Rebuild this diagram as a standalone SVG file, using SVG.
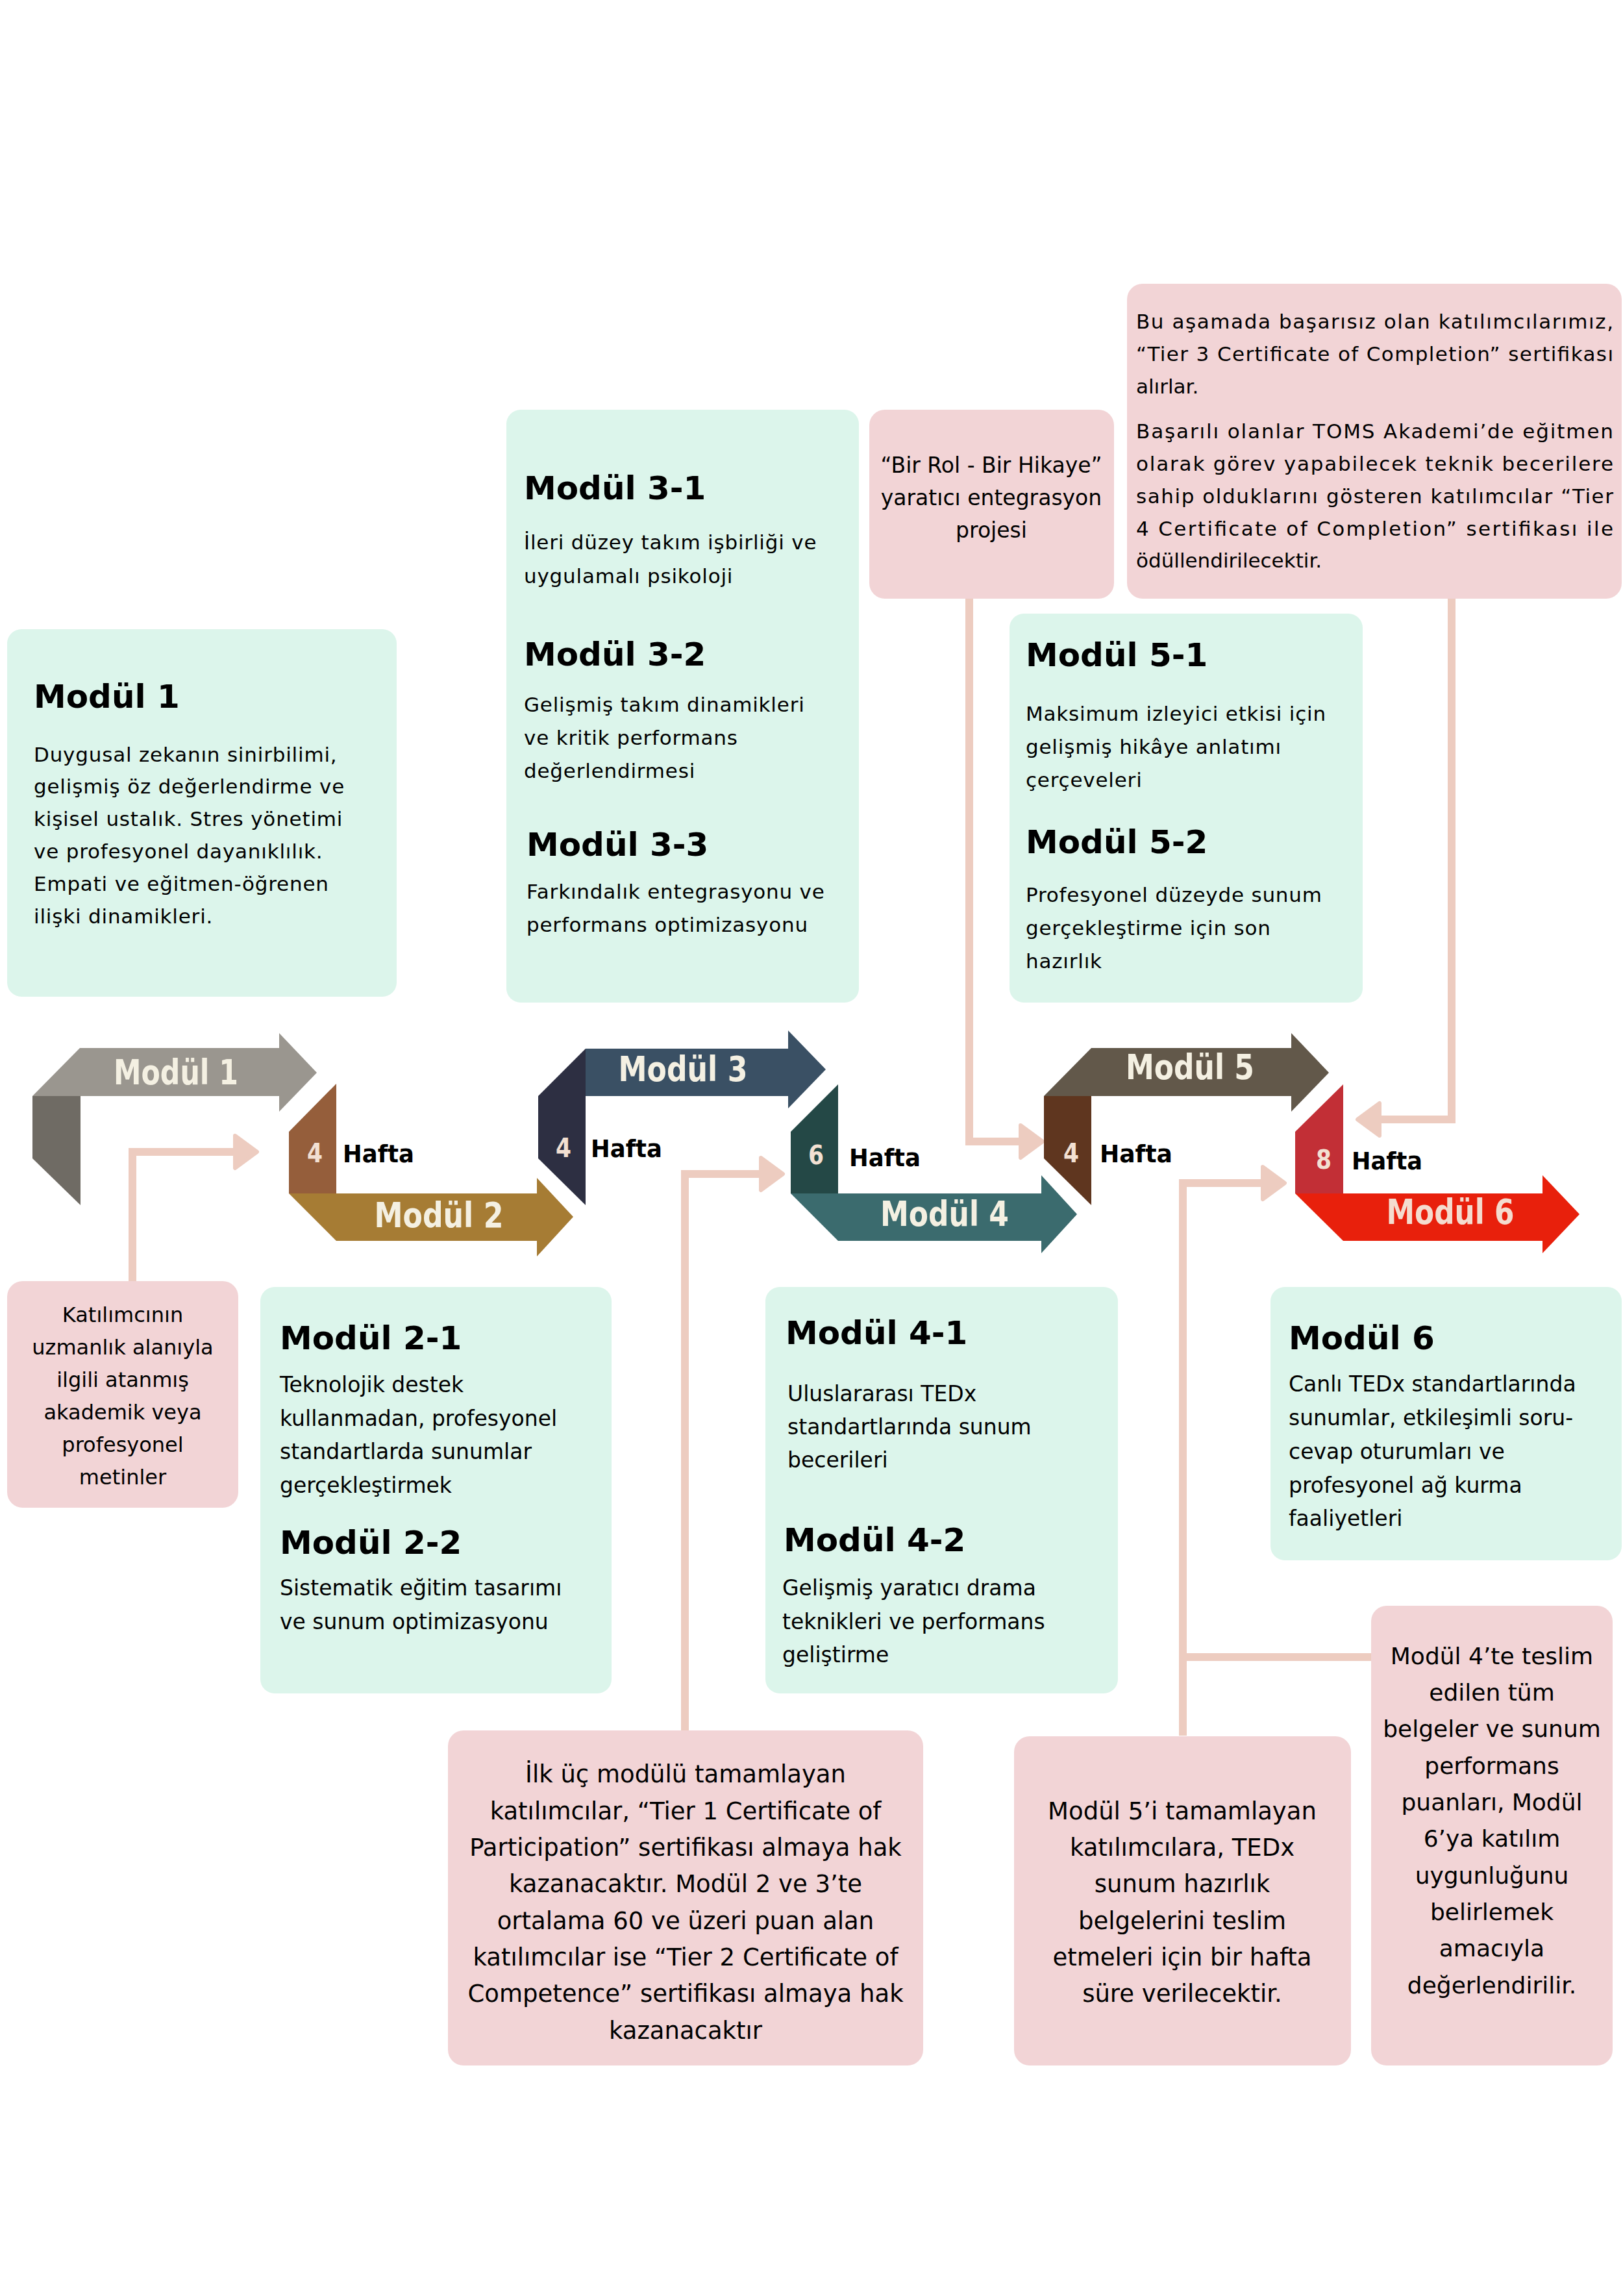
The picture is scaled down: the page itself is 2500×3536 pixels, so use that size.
<svg xmlns="http://www.w3.org/2000/svg" width="2500" height="3536" viewBox="0 0 2500 3536">
<style>
.mint{fill:#DCF5EB}
.pink{fill:#F2D4D6}
.h{font-family:"DejaVu Sans",sans-serif;font-weight:bold;font-size:50px;fill:#000}
.b1{font-family:"DejaVu Sans",sans-serif;font-size:31px;letter-spacing:0.8px;fill:#000}
.b2{font-family:"DejaVu Sans",sans-serif;font-size:33px;fill:#000}
.pc{font-family:"DejaVu Sans",sans-serif;fill:#000;text-anchor:middle}
.pj{font-family:"DejaVu Sans",sans-serif;font-size:31px;fill:#000}
.lbl{font-family:"DejaVu Sans",sans-serif;font-weight:bold;font-size:54px;fill:#F4F0E2;text-anchor:middle}
.num{font-family:"DejaVu Sans",sans-serif;font-weight:bold;font-size:40px;fill:#F2E0D2;text-anchor:middle}
.hf{font-family:"DejaVu Sans",sans-serif;font-weight:bold;font-size:38px;fill:#000}
.conn{fill:none;stroke:#EDCCC0;stroke-width:12}
</style>
<defs>
<marker id="ah" viewBox="-4 -30 44 60" markerWidth="44" markerHeight="60" refX="0" refY="0" markerUnits="userSpaceOnUse" orient="auto">
<path d="M0,-25 L34,0 L0,25 Z" fill="#EDCCC0" stroke="#EDCCC0" stroke-width="6" stroke-linejoin="round"/>
</marker>
</defs>
<rect width="2500" height="3536" fill="#FFFFFF"/>

<g id="connectors">
<path class="conn" d="M204,1973 V1774 H362" marker-end="url(#ah)"/>
<path class="conn" d="M1055,2665 V1808 H1172" marker-end="url(#ah)"/>
<path class="conn" d="M1493,922 V1758 H1572" marker-end="url(#ah)"/>
<path class="conn" d="M2236,922 V1724 H2125" marker-end="url(#ah)"/>
<path class="conn" d="M1822,2673 V1822 H1945" marker-end="url(#ah)"/>
<path class="conn" d="M2112,2552 H1822"/>
</g>

<g id="arrow-modul-1">
<polygon points="50,1688 124,1688 124,1856 50,1784" fill="#6F6B64"/>
<polygon points="50,1688 123,1614 430,1614 430,1591 488,1652 430,1712 430,1688" fill="#9A968F"/>
<text class="lbl" x="271" y="1670" textLength="192" lengthAdjust="spacingAndGlyphs">Modül 1</text>
</g>
<g id="arrow-modul-2">
<polygon points="445,1743 518,1669 518,1838 445,1838" fill="#955E3B"/>
<polygon points="445,1838 827,1838 827,1814 883,1874 827,1935 827,1911 518,1911" fill="#A67C34"/>
<text class="num" x="485" y="1790" textLength="24" lengthAdjust="spacingAndGlyphs">4</text>
<text class="hf" x="528" y="1790" textLength="110" lengthAdjust="spacingAndGlyphs">Hafta</text>
<text class="lbl" x="676" y="1890" textLength="199" lengthAdjust="spacingAndGlyphs">Modül 2</text>
</g>
<g id="arrow-modul-3">
<polygon points="829,1688 902,1615 902,1856 829,1784" fill="#2D2F42"/>
<polygon points="902,1615 1214,1615 1214,1587 1272,1647 1214,1707 1214,1688 902,1688" fill="#3A5064"/>
<text class="num" x="868" y="1782" textLength="24" lengthAdjust="spacingAndGlyphs">4</text>
<text class="hf" x="910" y="1782" textLength="110" lengthAdjust="spacingAndGlyphs">Hafta</text>
<text class="lbl" x="1052" y="1665" textLength="199" lengthAdjust="spacingAndGlyphs">Modül 3</text>
</g>
<g id="arrow-modul-4">
<polygon points="1218,1743 1291,1670 1291,1838 1218,1838" fill="#244846"/>
<polygon points="1218,1838 1604,1838 1604,1810 1659,1870 1604,1930 1604,1911 1291,1911" fill="#3B6B6E"/>
<text class="num" x="1257" y="1793" textLength="24" lengthAdjust="spacingAndGlyphs">6</text>
<text class="hf" x="1308" y="1796" textLength="110" lengthAdjust="spacingAndGlyphs">Hafta</text>
<text class="lbl" x="1455" y="1888" textLength="198" lengthAdjust="spacingAndGlyphs">Modül 4</text>
</g>
<g id="arrow-modul-5">
<polygon points="1608,1688 1681,1688 1681,1856 1608,1784" fill="#5F361F"/>
<polygon points="1608,1688 1681,1614 1989,1614 1989,1591 2047,1652 1989,1712 1989,1688" fill="#62584A"/>
<text class="num" x="1650" y="1790" textLength="24" lengthAdjust="spacingAndGlyphs">4</text>
<text class="hf" x="1694" y="1790" textLength="112" lengthAdjust="spacingAndGlyphs">Hafta</text>
<text class="lbl" x="1833" y="1662" textLength="198" lengthAdjust="spacingAndGlyphs">Modül 5</text>
</g>
<g id="arrow-modul-6">
<polygon points="1995,1743 2069,1670 2069,1838 1995,1838" fill="#C22F36"/>
<polygon points="1995,1838 2376,1838 2376,1810 2433,1870 2376,1930 2376,1911 2069,1911" fill="#E8200C"/>
<text class="num" x="2039" y="1800" textLength="24" lengthAdjust="spacingAndGlyphs">8</text>
<text class="hf" x="2082" y="1801" textLength="109" lengthAdjust="spacingAndGlyphs">Hafta</text>
<text class="lbl" x="2234" y="1885" textLength="197" lengthAdjust="spacingAndGlyphs" style="fill:#F4DCCF">Modül 6</text>
</g>

<g id="box-modul-1">
<rect class="mint" x="11" y="969" width="600" height="566" rx="22"/>
<text class="h" x="52" y="1090">Modül 1</text>
<text class="b1" x="52" y="1173">Duygusal zekanın sinirbilimi,</text>
<text class="b1" x="52" y="1222">gelişmiş öz değerlendirme ve</text>
<text class="b1" x="52" y="1272">kişisel ustalık. Stres yönetimi</text>
<text class="b1" x="52" y="1322">ve profesyonel dayanıklılık.</text>
<text class="b1" x="52" y="1372">Empati ve eğitmen-öğrenen</text>
<text class="b1" x="52" y="1422">ilişki dinamikleri.</text>
</g>

<g id="box-modul-3">
<rect class="mint" x="780" y="631" width="543" height="913" rx="22"/>
<text class="h" x="807" y="769">Modül 3-1</text>
<text class="b1" x="807" y="846">İleri düzey takım işbirliği ve</text>
<text class="b1" x="807" y="898">uygulamalı psikoloji</text>
<text class="h" x="807" y="1025">Modül 3-2</text>
<text class="b1" x="807" y="1096">Gelişmiş takım dinamikleri</text>
<text class="b1" x="807" y="1147">ve kritik performans</text>
<text class="b1" x="807" y="1198">değerlendirmesi</text>
<text class="h" x="811" y="1318">Modül 3-3</text>
<text class="b1" x="811" y="1384">Farkındalık entegrasyonu ve</text>
<text class="b1" x="811" y="1435">performans optimizasyonu</text>
</g>

<g id="box-modul-5">
<rect class="mint" x="1555" y="945" width="544" height="599" rx="22"/>
<text class="h" x="1580" y="1026">Modül 5-1</text>
<text class="b1" x="1580" y="1110">Maksimum izleyici etkisi için</text>
<text class="b1" x="1580" y="1161">gelişmiş hikâye anlatımı</text>
<text class="b1" x="1580" y="1212">çerçeveleri</text>
<text class="h" x="1580" y="1314">Modül 5-2</text>
<text class="b1" x="1580" y="1389">Profesyonel düzeyde sunum</text>
<text class="b1" x="1580" y="1440">gerçekleştirme için son</text>
<text class="b1" x="1580" y="1491">hazırlık</text>
</g>

<g id="box-modul-2">
<rect class="mint" x="401" y="1982" width="541" height="626" rx="22"/>
<text class="h" x="431" y="2078">Modül 2-1</text>
<text class="b2" x="431" y="2144">Teknolojik destek</text>
<text class="b2" x="431" y="2196">kullanmadan, profesyonel</text>
<text class="b2" x="431" y="2247">standartlarda sunumlar</text>
<text class="b2" x="431" y="2299">gerçekleştirmek</text>
<text class="h" x="431" y="2393">Modül 2-2</text>
<text class="b2" x="431" y="2457">Sistematik eğitim tasarımı</text>
<text class="b2" x="431" y="2509">ve sunum optimizasyonu</text>
</g>

<g id="box-modul-4">
<rect class="mint" x="1179" y="1982" width="543" height="626" rx="22"/>
<text class="h" x="1210" y="2070">Modül 4-1</text>
<text class="b2" x="1213" y="2158">Uluslararası TEDx</text>
<text class="b2" x="1213" y="2209">standartlarında sunum</text>
<text class="b2" x="1213" y="2260">becerileri</text>
<text class="h" x="1207" y="2389">Modül 4-2</text>
<text class="b2" x="1205" y="2457">Gelişmiş yaratıcı drama</text>
<text class="b2" x="1205" y="2509">teknikleri ve performans</text>
<text class="b2" x="1205" y="2560">geliştirme</text>
</g>

<g id="box-modul-6">
<rect class="mint" x="1957" y="1982" width="541" height="421" rx="22"/>
<text class="h" x="1985" y="2078">Modül 6</text>
<text class="b2" x="1985" y="2143">Canlı TEDx standartlarında</text>
<text class="b2" x="1985" y="2195">sunumlar, etkileşimli soru-</text>
<text class="b2" x="1985" y="2247">cevap oturumları ve</text>
<text class="b2" x="1985" y="2299">profesyonel ağ kurma</text>
<text class="b2" x="1985" y="2350">faaliyetleri</text>
</g>

<g id="note-katilimci">
<rect class="pink" x="11" y="1973" width="356" height="349" rx="24"/>
<g class="pc" style="font-size:32px">
<text x="189" y="2036">Katılımcının</text>
<text x="189" y="2086">uzmanlık alanıyla</text>
<text x="189" y="2136">ilgili atanmış</text>
<text x="189" y="2186">akademik veya</text>
<text x="189" y="2236">profesyonel</text>
<text x="189" y="2286">metinler</text>
</g>
</g>

<g id="note-bir-rol">
<rect class="pink" x="1339" y="631" width="377" height="291" rx="24"/>
<g class="pc" style="font-size:33px">
<text x="1527" y="728">“Bir Rol - Bir Hikaye”</text>
<text x="1527" y="778">yaratıcı entegrasyon</text>
<text x="1527" y="828">projesi</text>
</g>
</g>

<g id="note-tier34">
<rect class="pink" x="1736" y="437" width="762" height="485" rx="24"/>
<text class="pj" x="1750" y="506" textLength="735" lengthAdjust="spacing">Bu aşamada başarısız olan katılımcılarımız,</text>
<text class="pj" x="1750" y="556" textLength="735" lengthAdjust="spacing">“Tier 3 Certificate of Completion” sertifikası</text>
<text class="pj" x="1750" y="606">alırlar.</text>
<text class="pj" x="1750" y="675" textLength="735" lengthAdjust="spacing">Başarılı olanlar TOMS Akademi’de eğitmen</text>
<text class="pj" x="1750" y="725" textLength="735" lengthAdjust="spacing">olarak görev yapabilecek teknik becerilere</text>
<text class="pj" x="1750" y="775" textLength="735" lengthAdjust="spacing">sahip olduklarını gösteren katılımcılar “Tier</text>
<text class="pj" x="1750" y="825" textLength="735" lengthAdjust="spacing">4 Certificate of Completion” sertifikası ile</text>
<text class="pj" x="1750" y="874">ödüllendirilecektir.</text>
</g>

<g id="note-tier12">
<rect class="pink" x="690" y="2665" width="732" height="516" rx="24"/>
<g class="pc" style="font-size:37px">
<text x="1056" y="2745">İlk üç modülü tamamlayan</text>
<text x="1056" y="2802">katılımcılar, “Tier 1 Certificate of</text>
<text x="1056" y="2858">Participation” sertifikası almaya hak</text>
<text x="1056" y="2914">kazanacaktır. Modül 2 ve 3’te</text>
<text x="1056" y="2971">ortalama 60 ve üzeri puan alan</text>
<text x="1056" y="3027">katılımcılar ise “Tier 2 Certificate of</text>
<text x="1056" y="3083">Competence” sertifikası almaya hak</text>
<text x="1056" y="3140">kazanacaktır</text>
</g>
</g>

<g id="note-modul5">
<rect class="pink" x="1562" y="2674" width="519" height="507" rx="24"/>
<g class="pc" style="font-size:37px">
<text x="1821" y="2802">Modül 5’i tamamlayan</text>
<text x="1821" y="2858">katılımcılara, TEDx</text>
<text x="1821" y="2914">sunum hazırlık</text>
<text x="1821" y="2971">belgelerini teslim</text>
<text x="1821" y="3027">etmeleri için bir hafta</text>
<text x="1821" y="3083">süre verilecektir.</text>
</g>
</g>

<g id="note-modul4">
<rect class="pink" x="2112" y="2473" width="372" height="708" rx="24"/>
<g class="pc" style="font-size:36px">
<text x="2298" y="2563">Modül 4’te teslim</text>
<text x="2298" y="2619">edilen tüm</text>
<text x="2298" y="2675">belgeler ve sunum</text>
<text x="2298" y="2732">performans</text>
<text x="2298" y="2788">puanları, Modül</text>
<text x="2298" y="2844">6’ya katılım</text>
<text x="2298" y="2901">uygunluğunu</text>
<text x="2298" y="2957">belirlemek</text>
<text x="2298" y="3013">amacıyla</text>
<text x="2298" y="3070">değerlendirilir.</text>
</g>
</g>
</svg>
